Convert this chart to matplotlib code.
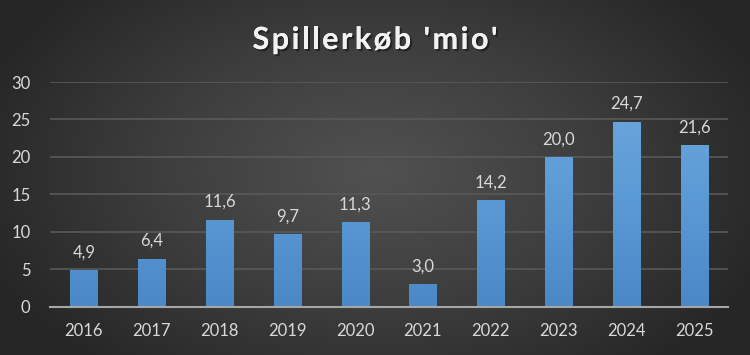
import numpy as np
import matplotlib.pyplot as plt
import matplotlib.colors as mcolors
import matplotlib.patheffects as pe
from matplotlib.font_manager import FontProperties
from matplotlib.textpath import TextToPath

years = ['2016', '2017', '2018', '2019', '2020', '2021', '2022', '2023', '2024', '2025']
values = [4.9, 6.4, 11.6, 9.7, 11.3, 3.0, 14.2, 20.0, 24.7, 21.6]
labels = ['4,9', '6,4', '11,6', '9,7', '11,3', '3,0', '14,2', '20,0', '24,7', '21,6']
y_ticks = [0, 5, 10, 15, 20, 25, 30]
title = "Spillerkøb 'mio'"

plt.rcParams['font.family'] = ['Lato', 'DejaVu Sans']
txt = '#d9d9d9'

fig = plt.figure(figsize=(7.5, 3.55), dpi=100)

# radial background
bg = fig.add_axes([0, 0, 1, 1], zorder=-10)
yy, xx = np.mgrid[0:355, 0:750]
r = np.sqrt(((xx - 375) / 420.0) ** 2 + ((yy - 170) / 260.0) ** 2)
r = np.clip(r, 0, 1)
bg_cmap = mcolors.LinearSegmentedColormap.from_list('bg', ['#515151', '#3e3e3e', '#262626'])
bg.imshow(r, cmap=bg_cmap, aspect='auto', extent=[0, 1, 0, 1], vmin=0, vmax=1)
bg.axis('off')

ax = fig.add_axes([0.0667, 0.136, 0.904, 0.633])
ax.patch.set_alpha(0)
x = np.arange(len(years))
bars = ax.bar(x, values, width=0.4, color='#5b9bd5', zorder=3)

# gradient fill on bars
bar_cmap = mcolors.LinearSegmentedColormap.from_list('bar', ['#4a88c8', '#5b9bd5', '#70a7dd'])
grad = np.linspace(0, 1, 256).reshape(-1, 1)
for b in bars:
    x0 = b.get_x()
    im = ax.imshow(grad, cmap=bar_cmap, aspect='auto', origin='lower',
                   extent=[x0, x0 + b.get_width(), 0, 30], zorder=4)
    im.set_clip_path(b)

for xi, v, lab in zip(x, values, labels):
    ax.annotate(lab, (xi, v), xytext=(0, 7), textcoords='offset points',
                ha='center', va='bottom', color=txt, fontsize=12)

ax.set_xlim(-0.5, len(years) - 0.5)
ax.set_ylim(0, 30)
ax.set_yticks(y_ticks)
ax.set_yticklabels([str(t) for t in y_ticks])
ax.set_xticks(x)
ax.set_xticklabels(years)
ax.tick_params(axis='both', length=0, colors=txt, labelsize=12)
ax.tick_params(axis='y', pad=14)
ax.tick_params(axis='x', pad=12)
ax.grid(axis='y', color='#595959', linewidth=1.2, zorder=0)
ax.set_axisbelow(True)
for s in ['top', 'right', 'left']:
    ax.spines[s].set_visible(False)
ax.spines['bottom'].set_color('#a6a6a6')
ax.spines['bottom'].set_linewidth(1.5)
ax.spines['bottom'].set_zorder(5)

# title with letter spacing
prop = FontProperties(family='Lato', weight='bold', size=22)
ttp = TextToPath()
def width_px(s):
    if not s:
        return 0.0
    return ttp.get_text_width_height_descent(s, prop, ismath=False)[0] * 100 / 72

target = 245.0
natural = width_px(title)
track = (target - natural) / (len(title) - 1)
start = 375 - target / 2
shadow = [pe.withSimplePatchShadow(offset=(1.5, -1.5), shadow_rgbFace='#111111', alpha=0.6), pe.Normal()]
for i, ch in enumerate(title):
    px = start + width_px(title[:i]) + i * track
    fig.text(px / 750, 1 - 49 / 355, ch, ha='left', va='baseline', color='#f2f2f2',
             fontproperties=prop, path_effects=shadow)

fig.savefig('out.png', dpi=100)
